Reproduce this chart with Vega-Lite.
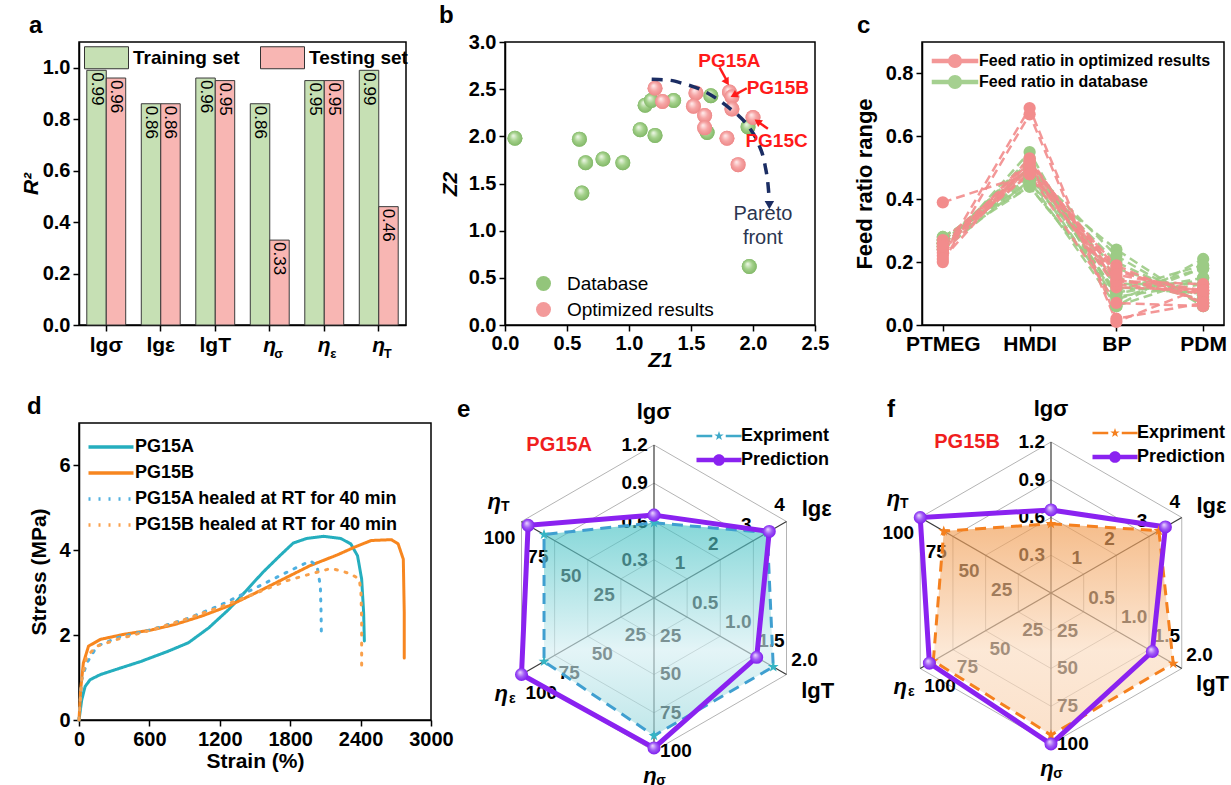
{
"$schema": "https://vega.github.io/schema/vega-lite/v6.json",
"background": "white",
"padding": {"left": 19, "top": 3, "right": 0, "bottom": 0},
"config": {
 "font": "Liberation Sans",
 "view": {"stroke": "black", "strokeWidth": 1.5},
 "axis": {"labelFont": "Liberation Sans", "labelFontSize": 20, "labelFontWeight": "bold", "labelColor": "black", "titleFont": "Liberation Sans", "titleFontSize": 21, "titleFontWeight": "bold", "titleColor": "black", "domainColor": "black", "domainWidth": 1.5, "tickColor": "black", "tickWidth": 1.5, "tickSize": 6, "grid": false, "labelPadding": 3, "titlePadding": 6, "labelFlush": false},
 "legend": {"labelFont": "Liberation Sans", "labelColor": "black", "padding": 0, "labelLimit": 0},
 "title": {"font": "Liberation Sans", "fontSize": 24, "fontWeight": "bold", "color": "black", "anchor": "start", "frame": "group"},
 "text": {"font": "Liberation Sans"}
},
"datasets": {
 "r2": [
  {"t": "lgσ", "set": "Training set", "v": 0.99, "sub": ""},
  {"t": "lgσ", "set": "Testing set", "v": 0.96, "sub": ""},
  {"t": "lgε", "set": "Training set", "v": 0.86, "sub": ""},
  {"t": "lgε", "set": "Testing set", "v": 0.86, "sub": ""},
  {"t": "lgT", "set": "Training set", "v": 0.96, "sub": ""},
  {"t": "lgT", "set": "Testing set", "v": 0.95, "sub": ""},
  {"t": "η_σ", "set": "Training set", "v": 0.86, "sub": "σ"},
  {"t": "η_σ", "set": "Testing set", "v": 0.33, "sub": "σ"},
  {"t": "η_ε", "set": "Training set", "v": 0.95, "sub": "ε"},
  {"t": "η_ε", "set": "Testing set", "v": 0.95, "sub": "ε"},
  {"t": "η_T", "set": "Training set", "v": 0.99, "sub": "T"},
  {"t": "η_T", "set": "Testing set", "v": 0.46, "sub": "T"}
 ],
 "pts": [
  {"g": "Database", "x": 0.08, "y": 1.98}, {"g": "Database", "x": 0.60, "y": 1.97}, {"g": "Database", "x": 0.65, "y": 1.72},
  {"g": "Database", "x": 0.79, "y": 1.76}, {"g": "Database", "x": 0.95, "y": 1.72}, {"g": "Database", "x": 0.62, "y": 1.40},
  {"g": "Database", "x": 1.09, "y": 2.07}, {"g": "Database", "x": 1.21, "y": 2.01}, {"g": "Database", "x": 1.13, "y": 2.33},
  {"g": "Database", "x": 1.18, "y": 2.38}, {"g": "Database", "x": 1.36, "y": 2.38}, {"g": "Database", "x": 1.66, "y": 2.43},
  {"g": "Database", "x": 1.63, "y": 2.04}, {"g": "Database", "x": 1.96, "y": 2.10}, {"g": "Database", "x": 1.97, "y": 0.62},
  {"g": "Optimized results", "x": 1.21, "y": 2.51}, {"g": "Optimized results", "x": 1.27, "y": 2.37}, {"g": "Optimized results", "x": 1.54, "y": 2.46},
  {"g": "Optimized results", "x": 1.52, "y": 2.32}, {"g": "Optimized results", "x": 1.61, "y": 2.22}, {"g": "Optimized results", "x": 1.61, "y": 2.09},
  {"g": "Optimized results", "x": 1.79, "y": 1.98}, {"g": "Optimized results", "x": 1.88, "y": 1.70}, {"g": "Optimized results", "x": 1.81, "y": 2.47},
  {"g": "Optimized results", "x": 1.83, "y": 2.42}, {"g": "Optimized results", "x": 1.83, "y": 2.29}, {"g": "Optimized results", "x": 2.00, "y": 2.20}
 ],
 "pareto": [
  {"o": 1, "x": 1.183, "y": 2.605}, {"o": 2, "x": 1.331, "y": 2.594}, {"o": 3, "x": 1.438, "y": 2.559}, {"o": 4, "x": 1.573, "y": 2.499},
  {"o": 5, "x": 1.707, "y": 2.400}, {"o": 6, "x": 1.815, "y": 2.294}, {"o": 7, "x": 1.895, "y": 2.206}, {"o": 8, "x": 1.976, "y": 2.083},
  {"o": 9, "x": 2.043, "y": 1.924}, {"o": 10, "x": 2.097, "y": 1.694}, {"o": 11, "x": 2.124, "y": 1.447}, {"o": 12, "x": 2.132, "y": 1.306}
 ],
 "paretoHead": [{"x": 2.132, "y": 1.27}],
 "paretoTxt": [{"t": "Pareto", "x": 2.08, "y": 1.18}, {"t": "front", "x": 2.08, "y": 0.92}],
 "annB": [{"t": "PG15A", "x": 1.81, "y": 2.80}, {"t": "PG15B", "x": 2.20, "y": 2.51}, {"t": "PG15C", "x": 2.19, "y": 1.95}],
 "arrB": [{"k": "A", "x": 1.73, "y": 2.73, "x2": 1.785, "y2": 2.60}, {"k": "B", "x": 1.95, "y": 2.51, "x2": 1.86, "y2": 2.445}, {"k": "C", "x": 2.12, "y": 2.08, "x2": 2.045, "y2": 2.15}],
 "headB": [{"k": "A", "x": 1.79, "y": 2.575}, {"k": "B", "x": 1.845, "y": 2.435}, {"k": "C", "x": 2.037, "y": 2.157}],
 "feed": [
  {"g": "Feed ratio in database", "id": "G1", "PTMEG": 0.28, "HMDI": 0.44, "BP": 0.10, "PDM": 0.18},
  {"g": "Feed ratio in database", "id": "G2", "PTMEG": 0.27, "HMDI": 0.46, "BP": 0.06, "PDM": 0.21},
  {"g": "Feed ratio in database", "id": "G3", "PTMEG": 0.26, "HMDI": 0.48, "BP": 0.08, "PDM": 0.18},
  {"g": "Feed ratio in database", "id": "G4", "PTMEG": 0.25, "HMDI": 0.50, "BP": 0.10, "PDM": 0.15},
  {"g": "Feed ratio in database", "id": "G5", "PTMEG": 0.24, "HMDI": 0.55, "BP": 0.06, "PDM": 0.15},
  {"g": "Feed ratio in database", "id": "G6", "PTMEG": 0.26, "HMDI": 0.52, "BP": 0.12, "PDM": 0.10},
  {"g": "Feed ratio in database", "id": "G7", "PTMEG": 0.27, "HMDI": 0.50, "BP": 0.15, "PDM": 0.08},
  {"g": "Feed ratio in database", "id": "G8", "PTMEG": 0.25, "HMDI": 0.48, "BP": 0.20, "PDM": 0.07},
  {"g": "Feed ratio in database", "id": "G9", "PTMEG": 0.24, "HMDI": 0.46, "BP": 0.24, "PDM": 0.06},
  {"g": "Feed ratio in database", "id": "G10", "PTMEG": 0.28, "HMDI": 0.45, "BP": 0.18, "PDM": 0.09},
  {"g": "Feed ratio in database", "id": "G11", "PTMEG": 0.26, "HMDI": 0.50, "BP": 0.22, "PDM": 0.06},
  {"g": "Feed ratio in database", "id": "G12", "PTMEG": 0.27, "HMDI": 0.47, "BP": 0.13, "PDM": 0.13},
  {"g": "Feed ratio in database", "id": "G13", "PTMEG": 0.25, "HMDI": 0.53, "BP": 0.09, "PDM": 0.13},
  {"g": "Feed ratio in database", "id": "G14", "PTMEG": 0.26, "HMDI": 0.44, "BP": 0.11, "PDM": 0.19},
  {"g": "Feed ratio in optimized results", "id": "P1", "PTMEG": 0.39, "HMDI": 0.48, "BP": 0.07, "PDM": 0.06},
  {"g": "Feed ratio in optimized results", "id": "P2", "PTMEG": 0.22, "HMDI": 0.69, "BP": 0.02, "PDM": 0.07},
  {"g": "Feed ratio in optimized results", "id": "P3", "PTMEG": 0.20, "HMDI": 0.67, "BP": 0.01, "PDM": 0.12},
  {"g": "Feed ratio in optimized results", "id": "P4", "PTMEG": 0.27, "HMDI": 0.50, "BP": 0.12, "PDM": 0.11},
  {"g": "Feed ratio in optimized results", "id": "P5", "PTMEG": 0.26, "HMDI": 0.49, "BP": 0.14, "PDM": 0.11},
  {"g": "Feed ratio in optimized results", "id": "P6", "PTMEG": 0.25, "HMDI": 0.52, "BP": 0.15, "PDM": 0.08},
  {"g": "Feed ratio in optimized results", "id": "P7", "PTMEG": 0.24, "HMDI": 0.53, "BP": 0.13, "PDM": 0.10},
  {"g": "Feed ratio in optimized results", "id": "P8", "PTMEG": 0.23, "HMDI": 0.50, "BP": 0.17, "PDM": 0.10},
  {"g": "Feed ratio in optimized results", "id": "P9", "PTMEG": 0.26, "HMDI": 0.48, "BP": 0.19, "PDM": 0.07},
  {"g": "Feed ratio in optimized results", "id": "P10", "PTMEG": 0.24, "HMDI": 0.51, "BP": 0.18, "PDM": 0.07},
  {"g": "Feed ratio in optimized results", "id": "P11", "PTMEG": 0.25, "HMDI": 0.48, "BP": 0.14, "PDM": 0.13},
  {"g": "Feed ratio in optimized results", "id": "P12", "PTMEG": 0.21, "HMDI": 0.52, "BP": 0.16, "PDM": 0.11}
 ],
 "ss": [
  {"s": "PG15A", "o": 1, "x": 0, "y": 0}, {"s": "PG15A", "o": 2, "x": 23, "y": 0.47}, {"s": "PG15A", "o": 3, "x": 52, "y": 0.79},
  {"s": "PG15A", "o": 4, "x": 95, "y": 0.95}, {"s": "PG15A", "o": 5, "x": 182, "y": 1.07}, {"s": "PG15A", "o": 6, "x": 326, "y": 1.20},
  {"s": "PG15A", "o": 7, "x": 528, "y": 1.38}, {"s": "PG15A", "o": 8, "x": 759, "y": 1.62}, {"s": "PG15A", "o": 9, "x": 932, "y": 1.82},
  {"s": "PG15A", "o": 10, "x": 1105, "y": 2.17}, {"s": "PG15A", "o": 11, "x": 1278, "y": 2.61}, {"s": "PG15A", "o": 12, "x": 1422, "y": 3.04},
  {"s": "PG15A", "o": 13, "x": 1567, "y": 3.48}, {"s": "PG15A", "o": 14, "x": 1711, "y": 3.87}, {"s": "PG15A", "o": 15, "x": 1826, "y": 4.17},
  {"s": "PG15A", "o": 16, "x": 1942, "y": 4.28}, {"s": "PG15A", "o": 17, "x": 2086, "y": 4.33}, {"s": "PG15A", "o": 18, "x": 2230, "y": 4.28},
  {"s": "PG15A", "o": 19, "x": 2317, "y": 4.15}, {"s": "PG15A", "o": 20, "x": 2374, "y": 3.87}, {"s": "PG15A", "o": 21, "x": 2409, "y": 3.32},
  {"s": "PG15A", "o": 22, "x": 2426, "y": 2.53}, {"s": "PG15A", "o": 23, "x": 2432, "y": 1.86},
  {"s": "PG15B", "o": 1, "x": 0, "y": 0}, {"s": "PG15B", "o": 2, "x": 14, "y": 0.71}, {"s": "PG15B", "o": 3, "x": 37, "y": 1.34},
  {"s": "PG15B", "o": 4, "x": 81, "y": 1.74}, {"s": "PG15B", "o": 5, "x": 182, "y": 1.90}, {"s": "PG15B", "o": 6, "x": 384, "y": 2.02},
  {"s": "PG15B", "o": 7, "x": 615, "y": 2.12}, {"s": "PG15B", "o": 8, "x": 816, "y": 2.25}, {"s": "PG15B", "o": 9, "x": 1047, "y": 2.45},
  {"s": "PG15B", "o": 10, "x": 1278, "y": 2.69}, {"s": "PG15B", "o": 11, "x": 1509, "y": 3.00}, {"s": "PG15B", "o": 12, "x": 1740, "y": 3.32},
  {"s": "PG15B", "o": 13, "x": 1971, "y": 3.64}, {"s": "PG15B", "o": 14, "x": 2201, "y": 3.89}, {"s": "PG15B", "o": 15, "x": 2345, "y": 4.07},
  {"s": "PG15B", "o": 16, "x": 2490, "y": 4.23}, {"s": "PG15B", "o": 17, "x": 2663, "y": 4.25}, {"s": "PG15B", "o": 18, "x": 2720, "y": 4.15},
  {"s": "PG15B", "o": 19, "x": 2764, "y": 3.79}, {"s": "PG15B", "o": 20, "x": 2772, "y": 2.53}, {"s": "PG15B", "o": 21, "x": 2772, "y": 1.46},
  {"s": "PG15A healed at RT for 40 min", "o": 1, "x": 0, "y": 0}, {"s": "PG15A healed at RT for 40 min", "o": 2, "x": 23, "y": 0.95},
  {"s": "PG15A healed at RT for 40 min", "o": 3, "x": 66, "y": 1.34}, {"s": "PG15A healed at RT for 40 min", "o": 4, "x": 153, "y": 1.74},
  {"s": "PG15A healed at RT for 40 min", "o": 5, "x": 326, "y": 1.94}, {"s": "PG15A healed at RT for 40 min", "o": 6, "x": 615, "y": 2.13},
  {"s": "PG15A healed at RT for 40 min", "o": 7, "x": 903, "y": 2.37}, {"s": "PG15A healed at RT for 40 min", "o": 8, "x": 1191, "y": 2.69},
  {"s": "PG15A healed at RT for 40 min", "o": 9, "x": 1480, "y": 3.08}, {"s": "PG15A healed at RT for 40 min", "o": 10, "x": 1769, "y": 3.48},
  {"s": "PG15A healed at RT for 40 min", "o": 11, "x": 1971, "y": 3.75}, {"s": "PG15A healed at RT for 40 min", "o": 12, "x": 2028, "y": 3.64},
  {"s": "PG15A healed at RT for 40 min", "o": 13, "x": 2057, "y": 3.16}, {"s": "PG15A healed at RT for 40 min", "o": 14, "x": 2063, "y": 2.53},
  {"s": "PG15A healed at RT for 40 min", "o": 15, "x": 2066, "y": 1.94},
  {"s": "PG15B healed at RT for 40 min", "o": 1, "x": 0, "y": 0}, {"s": "PG15B healed at RT for 40 min", "o": 2, "x": 23, "y": 0.95},
  {"s": "PG15B healed at RT for 40 min", "o": 3, "x": 66, "y": 1.50}, {"s": "PG15B healed at RT for 40 min", "o": 4, "x": 153, "y": 1.74},
  {"s": "PG15B healed at RT for 40 min", "o": 5, "x": 326, "y": 1.90}, {"s": "PG15B healed at RT for 40 min", "o": 6, "x": 615, "y": 2.12},
  {"s": "PG15B healed at RT for 40 min", "o": 7, "x": 903, "y": 2.37}, {"s": "PG15B healed at RT for 40 min", "o": 8, "x": 1191, "y": 2.65},
  {"s": "PG15B healed at RT for 40 min", "o": 9, "x": 1480, "y": 2.96}, {"s": "PG15B healed at RT for 40 min", "o": 10, "x": 1769, "y": 3.28},
  {"s": "PG15B healed at RT for 40 min", "o": 11, "x": 1971, "y": 3.44}, {"s": "PG15B healed at RT for 40 min", "o": 12, "x": 2144, "y": 3.57},
  {"s": "PG15B healed at RT for 40 min", "o": 13, "x": 2230, "y": 3.52}, {"s": "PG15B healed at RT for 40 min", "o": 14, "x": 2317, "y": 3.44},
  {"s": "PG15B healed at RT for 40 min", "o": 15, "x": 2389, "y": 3.32}, {"s": "PG15B healed at RT for 40 min", "o": 16, "x": 2403, "y": 3.00},
  {"s": "PG15B healed at RT for 40 min", "o": 17, "x": 2409, "y": 2.37}, {"s": "PG15B healed at RT for 40 min", "o": 18, "x": 2409, "y": 1.26}
 ],
 "rAxes": [
  {"axis": "lgσ", "i": 0, "max": 1.2, "main": "lgσ", "sub": ""},
  {"axis": "lgε", "i": 1, "max": 4, "main": "lgε", "sub": ""},
  {"axis": "lgT", "i": 2, "max": 2, "main": "lgT", "sub": ""},
  {"axis": "ησ", "i": 3, "max": 100, "main": "η", "sub": "σ"},
  {"axis": "ηε", "i": 4, "max": 100, "main": "η", "sub": "ε"},
  {"axis": "ηT", "i": 5, "max": 100, "main": "η", "sub": "T"}
 ],
 "rTicks": [
  {"axis": "lgσ", "t": 0.3, "lab": "0.3"}, {"axis": "lgσ", "t": 0.6, "lab": "0.6"}, {"axis": "lgσ", "t": 0.9, "lab": "0.9"}, {"axis": "lgσ", "t": 1.2, "lab": "1.2"},
  {"axis": "lgε", "t": 1, "lab": "1"}, {"axis": "lgε", "t": 2, "lab": "2"}, {"axis": "lgε", "t": 3, "lab": "3"}, {"axis": "lgε", "t": 4, "lab": "4"},
  {"axis": "lgT", "t": 0.5, "lab": "0.5"}, {"axis": "lgT", "t": 1, "lab": "1.0"}, {"axis": "lgT", "t": 1.5, "lab": "1.5"}, {"axis": "lgT", "t": 2, "lab": "2.0"},
  {"axis": "ησ", "t": 25, "lab": "25"}, {"axis": "ησ", "t": 50, "lab": "50"}, {"axis": "ησ", "t": 75, "lab": "75"}, {"axis": "ησ", "t": 100, "lab": "100"},
  {"axis": "ηε", "t": 25, "lab": "25"}, {"axis": "ηε", "t": 50, "lab": "50"}, {"axis": "ηε", "t": 75, "lab": "75"}, {"axis": "ηε", "t": 100, "lab": "100"},
  {"axis": "ηT", "t": 25, "lab": "25"}, {"axis": "ηT", "t": 50, "lab": "50"}, {"axis": "ηT", "t": 75, "lab": "75"}, {"axis": "ηT", "t": 100, "lab": "100"}
 ],
 "rVals": [
  {"p": "e", "s": "Expriment", "axis": "lgσ", "v": 0.59}, {"p": "e", "s": "Expriment", "axis": "lgε", "v": 3.42}, {"p": "e", "s": "Expriment", "axis": "lgT", "v": 1.80},
  {"p": "e", "s": "Expriment", "axis": "ησ", "v": 90}, {"p": "e", "s": "Expriment", "axis": "ηε", "v": 83}, {"p": "e", "s": "Expriment", "axis": "ηT", "v": 83},
  {"p": "e", "s": "Prediction", "axis": "lgσ", "v": 0.65}, {"p": "e", "s": "Prediction", "axis": "lgε", "v": 3.48}, {"p": "e", "s": "Prediction", "axis": "lgT", "v": 1.55},
  {"p": "e", "s": "Prediction", "axis": "ησ", "v": 98}, {"p": "e", "s": "Prediction", "axis": "ηε", "v": 100}, {"p": "e", "s": "Prediction", "axis": "ηT", "v": 95},
  {"p": "f", "s": "Expriment", "axis": "lgσ", "v": 0.55}, {"p": "f", "s": "Expriment", "axis": "lgε", "v": 3.3}, {"p": "f", "s": "Expriment", "axis": "lgT", "v": 1.87},
  {"p": "f", "s": "Expriment", "axis": "ησ", "v": 94}, {"p": "f", "s": "Expriment", "axis": "ηε", "v": 90}, {"p": "f", "s": "Expriment", "axis": "ηT", "v": 82},
  {"p": "f", "s": "Prediction", "axis": "lgσ", "v": 0.66}, {"p": "f", "s": "Prediction", "axis": "lgε", "v": 3.5}, {"p": "f", "s": "Prediction", "axis": "lgT", "v": 1.55},
  {"p": "f", "s": "Prediction", "axis": "ησ", "v": 100}, {"p": "f", "s": "Prediction", "axis": "ηε", "v": 93}, {"p": "f", "s": "Prediction", "axis": "ηT", "v": 100}
 ]
},
"resolve": {"scale": {"color": "independent", "fill": "independent", "shape": "independent", "strokeDash": "independent"}, "legend": {"color": "independent", "fill": "independent", "shape": "independent", "strokeDash": "independent"}},
"spacing": 23,
"vconcat": [
 {
  "spacing": 29,
  "resolve": {"scale": {"color": "independent", "fill": "independent", "shape": "independent", "strokeDash": "independent"}, "legend": {"color": "independent", "fill": "independent", "shape": "independent", "strokeDash": "independent"}},
  "hconcat": [
   {
    "width": 327, "height": 283,
    "title": {"text": "a", "dx": -50, "offset": 4},
    "data": {"name": "r2"},
    "encoding": {
     "x": {"field": "t", "type": "nominal", "sort": ["lgσ", "lgε", "lgT", "η_σ", "η_ε", "η_T"], "scale": {"paddingInner": 0.286, "paddingOuter": 0.143},
           "axis": {"title": null, "labelAngle": 0, "labelFontSize": 21, "labelPadding": 3, "labelExpr": "split(datum.label,'_')[0]",
                    "labelFontStyle": {"condition": {"test": "indexof(datum.value,'η')==0", "value": "italic"}, "value": "normal"}}}
    },
    "layer": [
     {"mark": {"type": "bar", "stroke": "#3a3a3a", "strokeWidth": 1},
      "encoding": {
       "xOffset": {"field": "set", "type": "nominal", "sort": ["Training set", "Testing set"]},
       "y": {"field": "v", "type": "quantitative", "scale": {"domain": [0, 1.1], "nice": false}, "axis": {"values": [0, 0.2, 0.4, 0.6, 0.8, 1.0], "format": ".1f", "title": "R²", "titleFontStyle": "italic", "titlePadding": 1}},
       "fill": {"field": "set", "type": "nominal", "sort": ["Training set", "Testing set"], "scale": {"domain": ["Training set", "Testing set"], "range": ["#c6e0b4", "#f8b6b3"]},
                "legend": {"title": null, "orient": "none", "legendX": 16, "legendY": 4, "direction": "horizontal", "symbolType": "M-2,-1H2V1H-2Z", "symbolSize": 484, "symbolStrokeColor": "#333333", "symbolStrokeWidth": 1, "labelFontSize": 19, "labelFontWeight": "bold", "labelOffset": 15, "columnPadding": 18}}
      }},
     {"mark": {"type": "text", "angle": 90, "align": "left", "baseline": "middle", "dx": 2, "fontSize": 17, "color": "black"},
      "encoding": {
       "xOffset": {"field": "set", "type": "nominal", "sort": ["Training set", "Testing set"]},
       "y": {"field": "v", "type": "quantitative"},
       "text": {"field": "v", "type": "quantitative", "format": ".2f"}
      }},
     {"transform": [{"filter": "datum.sub!='' && datum.set=='Training set'"}],
      "mark": {"type": "text", "fontSize": 13, "fontWeight": "bold", "dx": 9, "dy": 29, "color": "black"},
      "encoding": {"y": {"datum": 0, "type": "quantitative"}, "text": {"field": "sub"}}}
    ]
   },
   {
    "bounds": "flush",
    "spacing": 107,
    "resolve": {"scale": {"color": "independent", "fill": "independent", "shape": "independent", "strokeDash": "independent"}, "legend": {"color": "independent", "fill": "independent", "shape": "independent", "strokeDash": "independent"}},
    "hconcat": [
     {
      "width": 310, "height": 283,
      "title": {"text": "b", "dx": -66, "offset": 4},
      "encoding": {
       "x": {"field": "x", "type": "quantitative", "scale": {"domain": [0, 2.5], "nice": false}, "axis": {"values": [0, 0.5, 1, 1.5, 2, 2.5], "format": ".1f", "title": "Z1", "titleFontStyle": "italic", "labelPadding": 2, "titlePadding": -4}},
       "y": {"field": "y", "type": "quantitative", "scale": {"domain": [0, 3], "nice": false}, "axis": {"values": [0, 0.5, 1, 1.5, 2, 2.5, 3], "format": ".1f", "title": "Z2", "titleFontStyle": "italic", "titlePadding": 8}}
      },
      "layer": [
       {"data": {"name": "pts"}, "mark": {"type": "point", "filled": true, "size": 225, "opacity": 1},
        "encoding": {"color": {"field": "g", "type": "nominal", "scale": {"domain": ["Database", "Optimized results"], "range": ["#93c57b", "#f39a9a"]},
                     "legend": {"title": null, "orient": "none", "legendX": 29, "legendY": 232, "labelFontSize": 19, "labelFontWeight": "normal", "symbolSize": 225, "labelOffset": 14, "rowPadding": 6}}}},
       {"data": {"name": "pts"}, "transform": [{"filter": "datum.g=='Database'"}],
        "mark": {"type": "point", "filled": true, "size": 225, "opacity": 1, "fill": {"gradient": "radial", "x1": 0.38, "y1": 0.32, "r1": 0, "x2": 0.5, "y2": 0.5, "r2": 0.55, "stops": [{"offset": 0, "color": "#f2f9ec"}, {"offset": 0.5, "color": "#a4d18b"}, {"offset": 1, "color": "#7db463"}]}}},
       {"data": {"name": "pts"}, "transform": [{"filter": "datum.g=='Optimized results'"}],
        "mark": {"type": "point", "filled": true, "size": 225, "opacity": 1, "fill": {"gradient": "radial", "x1": 0.38, "y1": 0.32, "r1": 0, "x2": 0.5, "y2": 0.5, "r2": 0.55, "stops": [{"offset": 0, "color": "#fff0f0"}, {"offset": 0.5, "color": "#f6a6a6"}, {"offset": 1, "color": "#ec8484"}]}}},
       {"data": {"name": "pareto"}, "mark": {"type": "line", "stroke": "#1b2d63", "strokeWidth": 3.5, "strokeDash": [11, 8], "interpolate": "monotone"}, "encoding": {"order": {"field": "o"}}},
       {"data": {"name": "paretoHead"}, "mark": {"type": "point", "shape": "triangle-down", "filled": true, "color": "#1b2d63", "size": 90, "opacity": 1}},
       {"data": {"name": "paretoTxt"}, "mark": {"type": "text", "fontSize": 20, "color": "#2b3550"}, "encoding": {"text": {"field": "t"}}},
       {"data": {"name": "annB"}, "mark": {"type": "text", "fontSize": 19, "fontWeight": "bold", "color": "#ff1a1a"}, "encoding": {"text": {"field": "t"}}},
       {"data": {"name": "arrB"}, "mark": {"type": "rule", "color": "#ff1a1a", "strokeWidth": 2.5}, "encoding": {"x2": {"field": "x2"}, "y2": {"field": "y2"}}},
       {"data": {"name": "headB"}, "transform": [{"filter": "datum.k=='A'"}], "mark": {"type": "point", "shape": "triangle-up", "filled": true, "color": "#ff1a1a", "size": 70, "angle": 148, "opacity": 1}},
       {"data": {"name": "headB"}, "transform": [{"filter": "datum.k=='B'"}], "mark": {"type": "point", "shape": "triangle-up", "filled": true, "color": "#ff1a1a", "size": 70, "angle": 242, "opacity": 1}},
       {"data": {"name": "headB"}, "transform": [{"filter": "datum.k=='C'"}], "mark": {"type": "point", "shape": "triangle-up", "filled": true, "color": "#ff1a1a", "size": 70, "angle": 305, "opacity": 1}}
      ]
     },
     {
      "width": 302, "height": 283,
      "title": {"text": "c", "dx": -65, "offset": 4},
      "data": {"name": "feed"},
      "transform": [{"fold": ["PTMEG", "HMDI", "BP", "PDM"], "as": ["comp", "v"]}, {"calculate": "indexof(['PTMEG','HMDI','BP','PDM'], datum.comp)", "as": "ci"}],
      "encoding": {
       "x": {"field": "comp", "type": "nominal", "sort": ["PTMEG", "HMDI", "BP", "PDM"], "scale": {"type": "point", "padding": 0.24}, "axis": {"title": null, "labelAngle": 0, "labelFontSize": 21, "labelPadding": 2}},
       "y": {"field": "v", "type": "quantitative", "scale": {"domain": [0, 0.9], "nice": false}, "axis": {"values": [0, 0.2, 0.4, 0.6, 0.8], "format": ".1f", "title": "Feed ratio range", "titleFontSize": 22, "titlePadding": 9}},
       "color": {"field": "g", "type": "nominal", "scale": {"domain": ["Feed ratio in optimized results", "Feed ratio in database"], "range": ["#f28c8c", "#9ccb85"]},
                 "legend": {"title": null, "orient": "none", "legendX": 23, "legendY": 9, "labelFontSize": 16, "labelFontWeight": "bold", "symbolType": "M-2.5,-0.17H2.5V0.17H-2.5Z M-0.7,0A0.7,0.7 0 1,1 0.7,0A0.7,0.7 0 1,1 -0.7,0Z", "symbolSize": 324, "labelOffset": 14, "rowPadding": 1}}
      },
      "layer": [
       {"mark": {"type": "line", "strokeDash": [9, 5], "strokeWidth": 2.5, "opacity": 0.9}, "encoding": {"detail": {"field": "id"}, "order": {"field": "ci"}}},
       {"mark": {"type": "point", "filled": true, "size": 150, "opacity": 1}}
      ]
     }
    ]
   }
  ]
 },
 {
  "spacing": 3,
  "resolve": {"scale": {"color": "independent", "fill": "independent", "shape": "independent", "strokeDash": "independent"}, "legend": {"color": "independent", "fill": "independent", "shape": "independent", "strokeDash": "independent"}},
  "hconcat": [
   {
    "width": 352, "height": 297,
    "title": {"text": "d", "dx": -52, "offset": 4},
    "data": {"name": "ss"},
    "mark": {"type": "line", "strokeWidth": 3, "strokeCap": "round"},
    "encoding": {
     "x": {"field": "x", "type": "quantitative", "scale": {"domain": [0, 3000], "nice": false}, "axis": {"values": [0, 600, 1200, 1800, 2400, 3000], "format": "d", "title": "Strain (%)", "titlePadding": 1}},
     "y": {"field": "y", "type": "quantitative", "scale": {"domain": [0, 7], "nice": false}, "axis": {"values": [0, 2, 4, 6], "title": "Stress (MPa)", "titlePadding": 9}},
     "order": {"field": "o"},
     "color": {"field": "s", "type": "nominal", "scale": {"domain": ["PG15A", "PG15B", "PG15A healed at RT for 40 min", "PG15B healed at RT for 40 min"], "range": ["#25aebe", "#f7861f", "#4fb0e0", "#f9a04b"]},
               "legend": {"title": null, "orient": "none", "legendX": 21, "legendY": 13, "labelFontSize": 18, "labelFontWeight": "bold", "symbolType": "M-2.5,0H2.5", "symbolSize": 324, "symbolStrokeWidth": 3.5, "labelOffset": 13, "rowPadding": 6}},
     "strokeDash": {"field": "s", "type": "nominal", "scale": {"domain": ["PG15A", "PG15B", "PG15A healed at RT for 40 min", "PG15B healed at RT for 40 min"], "range": [[1, 0], [1, 0], [2, 8], [2, 8]]},
               "legend": {"title": null, "orient": "none", "legendX": 21, "legendY": 13, "labelFontSize": 18, "labelFontWeight": "bold", "symbolType": "M-2.5,0H2.5", "symbolSize": 324, "symbolStrokeWidth": 3.5, "labelOffset": 13, "rowPadding": 6}}
    }
   },
   {
    "width": 422, "height": 350,
    "view": {"stroke": null},
    "encoding": {
     "x": {"field": "x", "type": "quantitative", "scale": {"domain": [-1.2876, 1.4706], "nice": false, "zero": false}, "axis": null},
     "y": {"field": "y", "type": "quantitative", "scale": {"domain": [-1.1438, 1.1438], "nice": false, "zero": false}, "axis": null}
    },
    "layer": [
     {"data": {"name": "rTicks"},
      "transform": [
       {"lookup": "axis", "from": {"data": {"name": "rAxes"}, "key": "axis", "fields": ["i", "max"]}},
       {"calculate": "PI/2-datum.i*PI/3", "as": "ang"},
       {"calculate": "datum.t/datum.max", "as": "f"},
       {"calculate": "round(datum.f*4)", "as": "k"},
       {"calculate": "datum.f*cos(datum.ang)", "as": "x"},
       {"calculate": "datum.f*sin(datum.ang)", "as": "y"},
       {"calculate": "datum.x+[-0.04,-0.046,0.118,0.04,0.026,-0.04][datum.i]", "as": "lx"},
       {"calculate": "datum.y+[0,0.105,0.092,0,-0.118,-0.105][datum.i]", "as": "ly"}
      ],
      "layer": [
       {"mark": {"type": "line", "interpolate": "linear-closed", "stroke": "#b4b4b4", "strokeWidth": 1}, "encoding": {"detail": {"field": "k"}, "order": {"field": "i"}}},
       {"transform": [{"filter": "datum.i==0 || datum.i==5"}], "mark": {"type": "text", "align": "right", "baseline": "middle", "fontSize": 19, "fontWeight": "bold", "color": "black"},
        "encoding": {"x": {"field": "lx", "type": "quantitative"}, "y": {"field": "ly", "type": "quantitative"}, "text": {"field": "lab"}}},
       {"transform": [{"filter": "datum.i==1 || datum.i==2"}], "mark": {"type": "text", "align": "center", "baseline": "middle", "fontSize": 19, "fontWeight": "bold", "color": "black"},
        "encoding": {"x": {"field": "lx", "type": "quantitative"}, "y": {"field": "ly", "type": "quantitative"}, "text": {"field": "lab"}}},
       {"transform": [{"filter": "datum.i==3 || datum.i==4"}], "mark": {"type": "text", "align": "left", "baseline": "middle", "fontSize": 19, "fontWeight": "bold", "color": "black"},
        "encoding": {"x": {"field": "lx", "type": "quantitative"}, "y": {"field": "ly", "type": "quantitative"}, "text": {"field": "lab"}}}
      ]},
     {"data": {"name": "rAxes"},
      "transform": [
       {"calculate": "PI/2-datum.i*PI/3", "as": "ang"},
       {"calculate": "cos(datum.ang)", "as": "x"},
       {"calculate": "sin(datum.ang)", "as": "y"},
       {"calculate": "datum.x+[0,0.197,0.204,-0.026,-0.132,-0.178][datum.i]", "as": "nx"},
       {"calculate": "datum.y+[0.217,0.079,-0.105,-0.165,-0.125,0.125][datum.i]", "as": "ny"}
      ],
      "layer": [
       {"mark": {"type": "rule", "stroke": "#3a3a3a", "strokeWidth": 1.2}, "encoding": {"x": {"datum": 0, "type": "quantitative"}, "y": {"datum": 0, "type": "quantitative"}, "x2": {"field": "x"}, "y2": {"field": "y"}}},
       {"transform": [{"filter": "datum.i<3"}], "mark": {"type": "text", "fontSize": 22, "fontWeight": "bold", "baseline": "middle", "color": "black"},
        "encoding": {"x": {"field": "nx", "type": "quantitative"}, "y": {"field": "ny", "type": "quantitative"}, "text": {"field": "main"}}},
       {"transform": [{"filter": "datum.i>=3"}], "mark": {"type": "text", "fontSize": 22, "fontWeight": "bold", "fontStyle": "italic", "baseline": "middle", "color": "black"},
        "encoding": {"x": {"field": "nx", "type": "quantitative"}, "y": {"field": "ny", "type": "quantitative"}, "text": {"field": "main"}}},
       {"transform": [{"filter": "datum.i>=3"}], "mark": {"type": "text", "fontSize": 14, "fontWeight": "bold", "baseline": "middle", "dx": 11, "dy": 5, "color": "black"},
        "encoding": {"x": {"field": "nx", "type": "quantitative"}, "y": {"field": "ny", "type": "quantitative"}, "text": {"field": "sub"}}}
      ]},
     {"data": {"name": "rVals"},
      "transform": [
       {"filter": "datum.p=='e'"},
       {"lookup": "axis", "from": {"data": {"name": "rAxes"}, "key": "axis", "fields": ["i", "max"]}},
       {"calculate": "PI/2-datum.i*PI/3", "as": "ang"},
       {"calculate": "datum.v/datum.max", "as": "f"},
       {"calculate": "datum.f*cos(datum.ang)", "as": "x"},
       {"calculate": "datum.f*sin(datum.ang)", "as": "y"}
      ],
      "layer": [
       {"transform": [{"filter": "datum.s=='Expriment'"}],
        "mark": {"type": "line", "interpolate": "linear-closed", "fill": {"gradient": "linear", "x1": 0, "y1": 0, "x2": 0, "y2": 1, "stops": [{"offset": 0, "color": "#3cbfc1"}, {"offset": 0.6, "color": "#d3eef2"}, {"offset": 1, "color": "#98d8dc"}]}, "fillOpacity": 0.62, "stroke": "#3f9fd0", "strokeWidth": 3, "strokeDash": [11, 7]},
        "encoding": {"order": {"field": "i"}}},
       {"transform": [{"filter": "datum.s=='Prediction'"}], "mark": {"type": "line", "interpolate": "linear-closed", "stroke": "#8a22f0", "strokeWidth": 5}, "encoding": {"order": {"field": "i"}}},
       {"transform": [{"filter": "datum.s=='Expriment'"}], "mark": {"type": "point", "shape": "M0,-1L0.235,-0.324L0.951,-0.309L0.38,0.124L0.588,0.809L0,0.4L-0.588,0.809L-0.38,0.124L-0.951,-0.309L-0.235,-0.324Z", "filled": true, "color": "#36b4c4", "size": 130, "opacity": 1}},
       {"transform": [{"filter": "datum.s=='Prediction'"}], "mark": {"type": "point", "shape": "circle", "filled": true, "size": 170, "opacity": 1, "fill": {"gradient": "radial", "x1": 0.38, "y1": 0.32, "r1": 0, "x2": 0.5, "y2": 0.5, "r2": 0.55, "stops": [{"offset": 0, "color": "#efdcff"}, {"offset": 0.5, "color": "#a05cf5"}, {"offset": 1, "color": "#7a14ee"}]}}},
       {"transform": [{"filter": "false"}], "mark": {"type": "point", "filled": true, "opacity": 1},
        "encoding": {
         "color": {"field": "s", "type": "nominal", "scale": {"domain": ["Expriment", "Prediction"], "range": ["#3fa9c9", "#8a22f0"]},
                   "legend": {"title": null, "orient": "none", "legendX": 252, "legendY": 3, "labelFontSize": 18, "labelFontWeight": "bold", "symbolSize": 324, "labelOffset": 12, "rowPadding": 5}},
         "shape": {"field": "s", "type": "nominal", "scale": {"domain": ["Expriment", "Prediction"], "range": ["M-2.5,-0.15H-0.75V0.15H-2.5Z M0.75,-0.15H2.5V0.15H0.75Z M0,-0.55L0.129,-0.178L0.523,-0.17L0.209,0.068L0.323,0.445L0,0.22L-0.323,0.445L-0.209,0.068L-0.523,-0.17L-0.129,-0.178Z", "M-2.5,-0.25H2.5V0.25H-2.5Z M-0.65,0A0.65,0.65 0 1,1 0.65,0A0.65,0.65 0 1,1 -0.65,0Z"]},
                   "legend": {"title": null, "orient": "none", "legendX": 252, "legendY": 3, "labelFontSize": 18, "labelFontWeight": "bold", "symbolSize": 324, "labelOffset": 12, "rowPadding": 5}}
        }}
      ]},
     {"data": {"values": [{"t": "PG15A", "x": -0.62, "y": 1.0}]}, "mark": {"type": "text", "fontSize": 20, "fontWeight": "bold", "color": "#f01e1e", "baseline": "middle"}, "encoding": {"text": {"field": "t"}}},
     {"data": {"values": [{"t": "e", "x": -1.2876, "y": 1.183}]}, "mark": {"type": "text", "fontSize": 24, "fontWeight": "bold", "color": "black", "align": "left", "baseline": "alphabetic"}, "encoding": {"text": {"field": "t"}}}
    ]
   },
   {
    "width": 351, "height": 350,
    "view": {"stroke": null},
    "encoding": {
     "x": {"field": "x", "type": "quantitative", "scale": {"domain": [-1.1126, 1.212], "nice": false, "zero": false}, "axis": null},
     "y": {"field": "y", "type": "quantitative", "scale": {"domain": [-1.1921, 1.1258], "nice": false, "zero": false}, "axis": null}
    },
    "layer": [
     {"data": {"name": "rTicks"},
      "transform": [
       {"lookup": "axis", "from": {"data": {"name": "rAxes"}, "key": "axis", "fields": ["i", "max"]}},
       {"calculate": "PI/2-datum.i*PI/3", "as": "ang"},
       {"calculate": "datum.t/datum.max", "as": "f"},
       {"calculate": "round(datum.f*4)", "as": "k"},
       {"calculate": "datum.f*cos(datum.ang)", "as": "x"},
       {"calculate": "datum.f*sin(datum.ang)", "as": "y"},
       {"calculate": "datum.x+[-0.04,-0.046,0.118,0.04,0.026,-0.04][datum.i]", "as": "lx"},
       {"calculate": "datum.y+[0,0.105,0.092,0,-0.118,-0.105][datum.i]", "as": "ly"}
      ],
      "layer": [
       {"mark": {"type": "line", "interpolate": "linear-closed", "stroke": "#b4b4b4", "strokeWidth": 1}, "encoding": {"detail": {"field": "k"}, "order": {"field": "i"}}},
       {"transform": [{"filter": "datum.i==0 || datum.i==5"}], "mark": {"type": "text", "align": "right", "baseline": "middle", "fontSize": 19, "fontWeight": "bold", "color": "black"},
        "encoding": {"x": {"field": "lx", "type": "quantitative"}, "y": {"field": "ly", "type": "quantitative"}, "text": {"field": "lab"}}},
       {"transform": [{"filter": "datum.i==1 || datum.i==2"}], "mark": {"type": "text", "align": "center", "baseline": "middle", "fontSize": 19, "fontWeight": "bold", "color": "black"},
        "encoding": {"x": {"field": "lx", "type": "quantitative"}, "y": {"field": "ly", "type": "quantitative"}, "text": {"field": "lab"}}},
       {"transform": [{"filter": "datum.i==3 || datum.i==4"}], "mark": {"type": "text", "align": "left", "baseline": "middle", "fontSize": 19, "fontWeight": "bold", "color": "black"},
        "encoding": {"x": {"field": "lx", "type": "quantitative"}, "y": {"field": "ly", "type": "quantitative"}, "text": {"field": "lab"}}}
      ]},
     {"data": {"name": "rAxes"},
      "transform": [
       {"calculate": "PI/2-datum.i*PI/3", "as": "ang"},
       {"calculate": "cos(datum.ang)", "as": "x"},
       {"calculate": "sin(datum.ang)", "as": "y"},
       {"calculate": "datum.x+[0,0.197,0.204,-0.026,-0.132,-0.178][datum.i]", "as": "nx"},
       {"calculate": "datum.y+[0.217,0.079,-0.105,-0.165,-0.125,0.125][datum.i]", "as": "ny"}
      ],
      "layer": [
       {"mark": {"type": "rule", "stroke": "#3a3a3a", "strokeWidth": 1.2}, "encoding": {"x": {"datum": 0, "type": "quantitative"}, "y": {"datum": 0, "type": "quantitative"}, "x2": {"field": "x"}, "y2": {"field": "y"}}},
       {"transform": [{"filter": "datum.i<3"}], "mark": {"type": "text", "fontSize": 22, "fontWeight": "bold", "baseline": "middle", "color": "black"},
        "encoding": {"x": {"field": "nx", "type": "quantitative"}, "y": {"field": "ny", "type": "quantitative"}, "text": {"field": "main"}}},
       {"transform": [{"filter": "datum.i>=3"}], "mark": {"type": "text", "fontSize": 22, "fontWeight": "bold", "fontStyle": "italic", "baseline": "middle", "color": "black"},
        "encoding": {"x": {"field": "nx", "type": "quantitative"}, "y": {"field": "ny", "type": "quantitative"}, "text": {"field": "main"}}},
       {"transform": [{"filter": "datum.i>=3"}], "mark": {"type": "text", "fontSize": 14, "fontWeight": "bold", "baseline": "middle", "dx": 11, "dy": 5, "color": "black"},
        "encoding": {"x": {"field": "nx", "type": "quantitative"}, "y": {"field": "ny", "type": "quantitative"}, "text": {"field": "sub"}}}
      ]},
     {"data": {"name": "rVals"},
      "transform": [
       {"filter": "datum.p=='f'"},
       {"lookup": "axis", "from": {"data": {"name": "rAxes"}, "key": "axis", "fields": ["i", "max"]}},
       {"calculate": "PI/2-datum.i*PI/3", "as": "ang"},
       {"calculate": "datum.v/datum.max", "as": "f"},
       {"calculate": "datum.f*cos(datum.ang)", "as": "x"},
       {"calculate": "datum.f*sin(datum.ang)", "as": "y"}
      ],
      "layer": [
       {"transform": [{"filter": "datum.s=='Expriment'"}],
        "mark": {"type": "line", "interpolate": "linear-closed", "fill": {"gradient": "linear", "x1": 0, "y1": 0, "x2": 0, "y2": 1, "stops": [{"offset": 0, "color": "#f09a4e"}, {"offset": 0.6, "color": "#fbdcc0"}, {"offset": 1, "color": "#f9d2b0"}]}, "fillOpacity": 0.65, "stroke": "#f5801e", "strokeWidth": 3, "strokeDash": [11, 7]},
        "encoding": {"order": {"field": "i"}}},
       {"transform": [{"filter": "datum.s=='Prediction'"}], "mark": {"type": "line", "interpolate": "linear-closed", "stroke": "#8a22f0", "strokeWidth": 5}, "encoding": {"order": {"field": "i"}}},
       {"transform": [{"filter": "datum.s=='Expriment'"}], "mark": {"type": "point", "shape": "M0,-1L0.235,-0.324L0.951,-0.309L0.38,0.124L0.588,0.809L0,0.4L-0.588,0.809L-0.38,0.124L-0.951,-0.309L-0.235,-0.324Z", "filled": true, "color": "#f5801e", "size": 130, "opacity": 1}},
       {"transform": [{"filter": "datum.s=='Prediction'"}], "mark": {"type": "point", "shape": "circle", "filled": true, "size": 170, "opacity": 1, "fill": {"gradient": "radial", "x1": 0.38, "y1": 0.32, "r1": 0, "x2": 0.5, "y2": 0.5, "r2": 0.55, "stops": [{"offset": 0, "color": "#efdcff"}, {"offset": 0.5, "color": "#a05cf5"}, {"offset": 1, "color": "#7a14ee"}]}}},
       {"transform": [{"filter": "false"}], "mark": {"type": "point", "filled": true, "opacity": 1},
        "encoding": {
         "color": {"field": "s", "type": "nominal", "scale": {"domain": ["Expriment", "Prediction"], "range": ["#f5801e", "#8a22f0"]},
                   "legend": {"title": null, "orient": "none", "legendX": 222, "legendY": 0, "labelFontSize": 18, "labelFontWeight": "bold", "symbolSize": 324, "labelOffset": 12, "rowPadding": 5}},
         "shape": {"field": "s", "type": "nominal", "scale": {"domain": ["Expriment", "Prediction"], "range": ["M-2.5,-0.15H-0.75V0.15H-2.5Z M0.75,-0.15H2.5V0.15H0.75Z M0,-0.55L0.129,-0.178L0.523,-0.17L0.209,0.068L0.323,0.445L0,0.22L-0.323,0.445L-0.209,0.068L-0.523,-0.17L-0.129,-0.178Z", "M-2.5,-0.25H2.5V0.25H-2.5Z M-0.65,0A0.65,0.65 0 1,1 0.65,0A0.65,0.65 0 1,1 -0.65,0Z"]},
                   "legend": {"title": null, "orient": "none", "legendX": 222, "legendY": 0, "labelFontSize": 18, "labelFontWeight": "bold", "symbolSize": 324, "labelOffset": 12, "rowPadding": 5}}
        }}
      ]},
     {"data": {"values": [{"t": "PG15B", "x": -0.556, "y": 1.0}]}, "mark": {"type": "text", "fontSize": 20, "fontWeight": "bold", "color": "#f01e1e", "baseline": "middle"}, "encoding": {"text": {"field": "t"}}},
     {"data": {"values": [{"t": "f", "x": -1.086, "y": 1.166}]}, "mark": {"type": "text", "fontSize": 24, "fontWeight": "bold", "color": "black", "align": "left", "baseline": "alphabetic"}, "encoding": {"text": {"field": "t"}}}
    ]
   }
  ]
 }
]
}
